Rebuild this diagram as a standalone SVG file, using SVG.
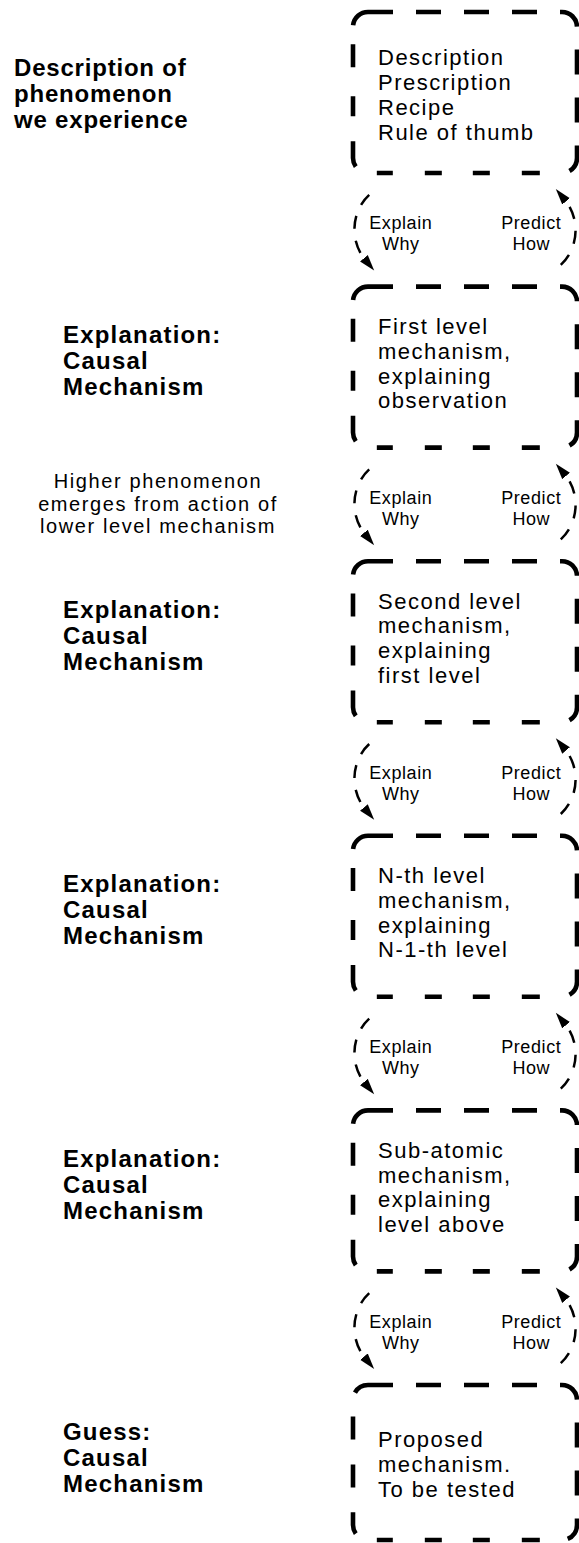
<svg xmlns="http://www.w3.org/2000/svg" width="579" height="1543" viewBox="0 0 579 1543">
<style>
.bg{fill:#fff}
.box{fill:none;stroke:#000;stroke-width:4.6;stroke-dasharray:25 23 25 23 25 23 25 23 25 23 25 23 25 23 28 30 18 32 17 31 17 32 16 23 26 25 20 29 23 19 22.25}
.box6{fill:none;stroke:#000;stroke-width:4.6;stroke-dasharray:25 23 25 23 25 23 25 23 25 23 25 23 25 23 24 28 18 32 17 31 17 32 16 23 22 24.7 23 25 23 24.3 16.25}
.bt{font-family:"Liberation Sans",Arial,sans-serif;font-size:22px;letter-spacing:1.5px;fill:#000}
.lb{font-family:"Liberation Sans",Arial,sans-serif;font-size:24px;font-weight:bold;letter-spacing:1.2px;fill:#000}
.mid{font-family:"Liberation Sans",Arial,sans-serif;font-size:20px;letter-spacing:1.6px;fill:#000;text-anchor:middle}
.cl{font-family:"Liberation Sans",Arial,sans-serif;font-size:18px;letter-spacing:0.6px;fill:#000;text-anchor:middle}
.arc{fill:none;stroke:#000;stroke-width:2.5;stroke-dasharray:13 12;marker-end:url(#ah)}
</style>
<defs>
<marker id="ah" markerUnits="userSpaceOnUse" markerWidth="17" markerHeight="12" refX="2" refY="5.5" orient="auto">
<path d="M0,0.5 L16,5.5 L0,10.5 z" fill="#000"/>
</marker>
<path id="boxshape" d="M368,12 H562 A15,15 0 0 1 577,27 V158 A15,15 0 0 1 562,173 H368 A15,15 0 0 1 353,158 V27 A15,15 0 0 1 368,12 Z"/>
</defs>
<rect class="bg" x="0" y="0" width="579" height="1543"/>

<g id="connectors">
<path class="arc" d="M369.2,194.8 A41,45 0 0 0 365.2,259.8"/>
<path class="arc" d="M560.8,264.8 A41,45 0 0 0 564.8,199.8"/>
<path class="arc" d="M369.2,469.4 A41,45 0 0 0 365.2,534.4"/>
<path class="arc" d="M560.8,539.4 A41,45 0 0 0 564.8,474.4"/>
<path class="arc" d="M369.2,744 A41,45 0 0 0 365.2,809"/>
<path class="arc" d="M560.8,814 A41,45 0 0 0 564.8,749"/>
<path class="arc" d="M369.2,1018.6 A41,45 0 0 0 365.2,1083.6"/>
<path class="arc" d="M560.8,1088.6 A41,45 0 0 0 564.8,1023.6"/>
<path class="arc" d="M369.2,1293.2 A41,45 0 0 0 365.2,1358.2"/>
<path class="arc" d="M560.8,1363.2 A41,45 0 0 0 564.8,1298.2"/>
</g>

<g id="connector-labels">
<text class="cl" x="400.8" y="229.3">Explain</text><text class="cl" x="400.8" y="250.3">Why</text>
<text class="cl" x="531.3" y="229.3">Predict</text><text class="cl" x="531.3" y="250.3">How</text>
<text class="cl" x="400.8" y="503.9">Explain</text><text class="cl" x="400.8" y="524.9">Why</text>
<text class="cl" x="531.3" y="503.9">Predict</text><text class="cl" x="531.3" y="524.9">How</text>
<text class="cl" x="400.8" y="778.5">Explain</text><text class="cl" x="400.8" y="799.5">Why</text>
<text class="cl" x="531.3" y="778.5">Predict</text><text class="cl" x="531.3" y="799.5">How</text>
<text class="cl" x="400.8" y="1053.1">Explain</text><text class="cl" x="400.8" y="1074.1">Why</text>
<text class="cl" x="531.3" y="1053.1">Predict</text><text class="cl" x="531.3" y="1074.1">How</text>
<text class="cl" x="400.8" y="1327.7">Explain</text><text class="cl" x="400.8" y="1348.7">Why</text>
<text class="cl" x="531.3" y="1327.7">Predict</text><text class="cl" x="531.3" y="1348.7">How</text>
</g>

<g id="box1">
<use href="#boxshape" class="box"/>
<text class="bt" x="378" y="65">Description</text>
<text class="bt" x="378" y="90">Prescription</text>
<text class="bt" x="378" y="115">Recipe</text>
<text class="bt" x="378" y="140">Rule of thumb</text>
</g>
<g id="box2">
<use href="#boxshape" class="box" transform="translate(0,274.6)"/>
<text class="bt" x="378" y="334.1">First level</text>
<text class="bt" x="378" y="358.8">mechanism,</text>
<text class="bt" x="378" y="383.5">explaining</text>
<text class="bt" x="378" y="408.2">observation</text>
</g>
<g id="box3">
<use href="#boxshape" class="box" transform="translate(0,549.2)"/>
<text class="bt" x="378" y="608.7">Second level</text>
<text class="bt" x="378" y="633.4">mechanism,</text>
<text class="bt" x="378" y="658.1">explaining</text>
<text class="bt" x="378" y="682.8">first level</text>
</g>
<g id="box4">
<use href="#boxshape" class="box" transform="translate(0,823.8)"/>
<text class="bt" x="378" y="883.3">N-th level</text>
<text class="bt" x="378" y="908">mechanism,</text>
<text class="bt" x="378" y="932.7">explaining</text>
<text class="bt" x="378" y="957.4">N-1-th level</text>
</g>
<g id="box5">
<use href="#boxshape" class="box" transform="translate(0,1098.4)"/>
<text class="bt" x="378" y="1157.9">Sub-atomic</text>
<text class="bt" x="378" y="1182.6">mechanism,</text>
<text class="bt" x="378" y="1207.3">explaining</text>
<text class="bt" x="378" y="1232">level above</text>
</g>
<g id="box6">
<path class="box6" d="M368,1385 H562 A15,15 0 0 1 577,1400 V1525 A15,15 0 0 1 562,1540 H368 A15,15 0 0 1 353,1525 V1400 A15,15 0 0 1 368,1385 Z"/>
<text class="bt" x="378" y="1447">Proposed</text>
<text class="bt" x="378" y="1472">mechanism.</text>
<text class="bt" x="378" y="1497">To be tested</text>
</g>

<g id="label1">
<text class="lb" x="14" y="76" style="letter-spacing:0.8px">Description of</text>
<text class="lb" x="14" y="102" style="letter-spacing:0.8px">phenomenon</text>
<text class="lb" x="14" y="128" style="letter-spacing:0.8px">we experience</text>
</g>
<g id="label2">
<text class="lb" x="63" y="343">Explanation:</text>
<text class="lb" x="63" y="369">Causal</text>
<text class="lb" x="63" y="395">Mechanism</text>
</g>
<g id="label-emerges">
<text class="mid" x="158" y="488.3">Higher phenomenon</text>
<text class="mid" x="158" y="510.7">emerges from action of</text>
<text class="mid" x="158" y="533.3">lower level mechanism</text>
</g>
<g id="label3">
<text class="lb" x="63" y="617.6">Explanation:</text>
<text class="lb" x="63" y="643.6">Causal</text>
<text class="lb" x="63" y="669.6">Mechanism</text>
</g>
<g id="label4">
<text class="lb" x="63" y="892.2">Explanation:</text>
<text class="lb" x="63" y="918.2">Causal</text>
<text class="lb" x="63" y="944.2">Mechanism</text>
</g>
<g id="label5">
<text class="lb" x="63" y="1166.8">Explanation:</text>
<text class="lb" x="63" y="1192.8">Causal</text>
<text class="lb" x="63" y="1218.8">Mechanism</text>
</g>
<g id="label6">
<text class="lb" x="63" y="1439.5">Guess:</text>
<text class="lb" x="63" y="1465.5">Causal</text>
<text class="lb" x="63" y="1491.5">Mechanism</text>
</g>
</svg>
